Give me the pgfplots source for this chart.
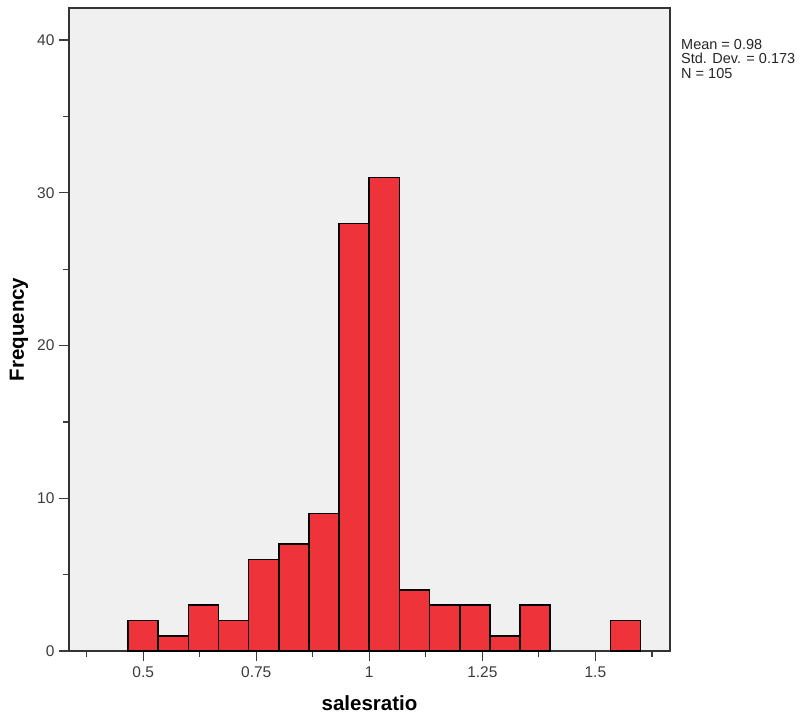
\documentclass[border=0pt]{standalone}
\usepackage{fontspec}
\setmainfont{Liberation Sans}
\usepackage{pgfplots}
\pgfplotsset{compat=1.18}
\definecolor{bgGray}{RGB}{240,240,240}
\definecolor{barRed}{RGB}{238,52,58}
\definecolor{tickGray}{RGB}{60,60,60}

\begin{document}
\begin{tikzpicture}
\path[use as bounding box] (0pt,0pt) rectangle (803pt,-715pt);
\begin{axis}[
    at={(69pt,-651pt)}, anchor=south west,
    scale only axis,
    width=601pt, height=643pt,
    xmin=0.336, xmax=1.665,
    ymin=0, ymax=42.1,
    axis background/.style={fill=bgGray},
    axis line style={black!80,line width=1.3pt},
    xtick={0.5,0.75,1,1.25,1.5},
    xticklabels={0.5,0.75,1,1.25,1.5},
    minor xtick={0.375,0.625,0.875,1.125,1.375,1.625},
    ytick={0,10,20,30,40},
    yticklabels={0,10,20,30,40},
    minor ytick={5,15,25,35},
    xtick pos=bottom, ytick pos=left,
    tick align=outside,
    major tick length=10pt, minor tick length=6pt,
    tick style={tickGray,line width=1.2pt},
    ticklabel style={font=\fontsize{15.5}{17}\selectfont,text=tickGray},
    xticklabel style={yshift=-2pt},
    yticklabel style={xshift=-1pt},
    xlabel={salesratio},
    ylabel={Frequency},
    label style={font=\fontsize{20.5}{22}\selectfont\bfseries},
    xlabel style={at={(axis description cs:0.5,0)},anchor=center,yshift=-52pt},
    ylabel style={at={(axis description cs:0,0.5)},anchor=center,yshift=50pt},
]
% counts per bin of width 1/15, edges from 7/15 to 21/15
\addplot[ybar interval,fill=barRed,draw=black,line width=1.6pt] coordinates {
    (0.466667,2) (0.533333,1) (0.6,3) (0.666667,2) (0.733333,6)
    (0.8,7) (0.866667,9) (0.933333,28) (1.0,31) (1.066667,4)
    (1.133333,3) (1.2,3) (1.266667,1) (1.333333,3) (1.4,0)
};
\addplot[ybar interval,fill=barRed,draw=black,line width=1.6pt] coordinates {
    (1.533333,2) (1.6,0)
};
\end{axis}
\node[anchor=north west,align=left,inner sep=0pt,font=\fontsize{14.5}{14.5}\selectfont,text=black!85]
    at (681pt,-39pt) {Mean = 0.98\\Std. Dev. = 0.173\\N = 105};
\end{tikzpicture}
\end{document}
